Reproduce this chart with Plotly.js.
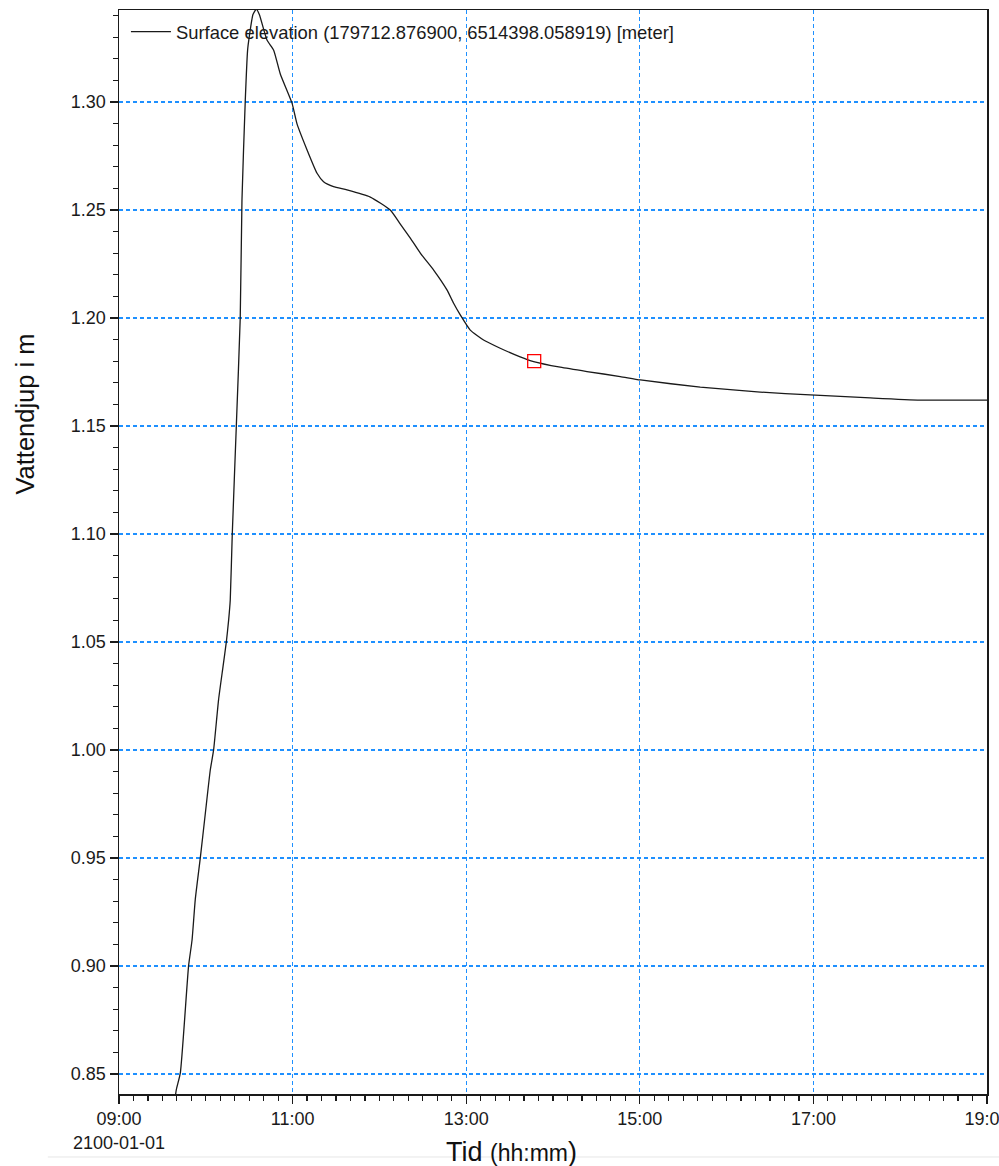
<!DOCTYPE html>
<html>
<head>
<meta charset="utf-8">
<script src="https://cdn.plot.ly/plotly-3.0.1.min.js"></script>
<style>
html,body{margin:0;padding:0;background:#fff;}
#chart{width:999px;height:1166px;}
</style>
</head>
<body>
<div id="chart"></div>
<script>
var day = "2100-01-01";
var seriesName = "Surface elevation (179712.876900, 6514398.058919) [meter]";
var times = ["09:38:00","09:39:36","09:42:24","09:48:06","09:50:30","09:52:42","09:56:12","09:59:42",
  "10:03:06","10:05:24","10:08:48","10:11:54","10:14:12","10:15:48","10:16:54","10:18:18","10:21:06",
  "10:23:48","10:25:00","10:27:18","10:28:54","10:30:00","10:32:36","10:34:54","10:37:00","10:42:18",
  "10:46:54","10:51:30","10:59:36","11:03:00","11:10:00","11:16:54","11:21:24","11:28:18","11:37:36",
  "11:53:42","12:07:30","12:14:28","12:21:22","12:28:18","12:37:30","12:46:42","12:51:18","12:55:54","13:02:48",
  "13:12:00","13:23:30","13:37:18","13:46:36","14:05:00","14:23:30","14:46:30","15:00:24","15:41:48",
  "16:23:18","16:57:48","17:39:18","18:13:48","19:00:00"];
var elevation = [0.835,0.8426,0.8505,0.900,0.912,0.9306,0.950,0.9708,
  0.9907,1.000,1.0231,1.0386,1.050,1.0602,1.0694,1.100,1.150,
  1.200,1.2546,1.3009,1.324,1.330,1.3405,1.343,1.3405,1.3287,
  1.324,1.313,1.2995,1.290,1.2778,1.267,1.2631,1.2608,1.2593,
  1.256,1.250,1.2435,1.237,1.230,1.2222,1.213,1.2068,1.2014,1.1944,
  1.1898,1.186,1.182,1.1798,1.1772,1.1752,1.1729,1.1713,1.168,
  1.1657,1.1644,1.163,1.162,1.162];
var markerTime = ["13:47:00"];
var markerValue = [1.18];
var xTickTimes = ["09:00","11:00","13:00","15:00","17:00","19:00"];
var xTickText = ["09:00<br>2100-01-01","11:00","13:00","15:00","17:00","19:00"];
var yTickVals = [0.85,0.90,0.95,1.00,1.05,1.10,1.15,1.20,1.25,1.30];
var yTickText = ["0.85","0.90","0.95","1.00","1.05","1.10","1.15","1.20","1.25","1.30"];
var xTitle = "Tid <span style='font-size:23px'>(hh:mm</span>)";
var yTitle = "Vattendjup i m";

function full(t){ return day + " " + (t.length === 5 ? t + ":00" : t); }

var FONT = "Liberation Sans, Arial, sans-serif";
var traces = [
  {
    x: times.map(full), y: elevation, type: "scatter", mode: "lines",
    name: seriesName, line: {color: "#1a1a1a", width: 1.3, shape: "spline", smoothing: 0.5}, showlegend: true
  },
  {
    x: markerTime.map(full), y: markerValue, type: "scatter", mode: "markers",
    marker: {symbol: "square-open", size: 13, color: "#ff0000", line: {width: 1.3, color: "#ff0000"}},
    showlegend: false, hoverinfo: "skip"
  }
];

var gridColor = "#1e90ff";
var layout = {
  width: 999, height: 1166,
  margin: {l: 119, r: 12, t: 10, b: 72},
  paper_bgcolor: "#ffffff", plot_bgcolor: "#ffffff",
  font: {family: FONT, color: "#1a1a1a", size: 18},
  showlegend: true,
  legend: {
    x: 0.008, y: 0.997, xanchor: "left", yanchor: "top",
    bgcolor: "rgba(255,255,255,0)", borderwidth: 0,
    font: {family: FONT, size: 18.4, color: "#1a1a1a"},
    itemwidth: 40
  },
  xaxis: {
    type: "date",
    range: [full("09:00"), full("19:00")],
    tickmode: "array",
    tickvals: xTickTimes.map(full),
    ticktext: xTickText,
    ticklabeloverflow: "allow",
    ticks: "outside", ticklen: 8, tickwidth: 1.3, tickcolor: "#1a1a1a",
    tickfont: {size: 18, family: FONT, color: "#1a1a1a"},
    showline: true, linecolor: "#1a1a1a", linewidth: 1.5, mirror: true,
    showgrid: true, gridcolor: gridColor, gridwidth: 1.3, griddash: "4px,3px",
    zeroline: false,
    minor: {dtick: 600000, tick0: full("09:00"), ticks: "outside", ticklen: 5, tickwidth: 1.2, tickcolor: "#1a1a1a", showgrid: false}
  },
  yaxis: {
    range: [0.8407, 1.3426],
    tickmode: "array",
    tickvals: yTickVals,
    ticktext: yTickText,
    ticks: "outside", ticklen: 8, tickwidth: 1.3, tickcolor: "#1a1a1a",
    tickfont: {size: 18, family: FONT, color: "#1a1a1a"},
    showline: true, linecolor: "#1a1a1a", linewidth: 1.5, mirror: true,
    showgrid: true, gridcolor: gridColor, gridwidth: 1.3, griddash: "4px,3px",
    zeroline: false,
    minor: {dtick: 0.01, tick0: 0.8, ticks: "outside", ticklen: 5, tickwidth: 1.2, tickcolor: "#1a1a1a", showgrid: false}
  },
  annotations: [
    {
      text: yTitle, xref: "paper", yref: "paper", x: -0.108, y: 0.627,
      xanchor: "center", yanchor: "middle", textangle: -90, showarrow: false,
      font: {size: 25.5, family: FONT, color: "#111"}
    },
    {
      text: xTitle, xref: "paper", yref: "paper", x: 0.452, y: -0.0535,
      xanchor: "center", yanchor: "middle", showarrow: false,
      font: {size: 27, family: FONT, color: "#111"}
    }
  ],
  shapes: [
    {type: "line", xref: "paper", yref: "paper", x0: -0.082, x1: 1.02, y0: -0.0581, y1: -0.0581,
     line: {color: "#e6e6e6", width: 1}}
  ]
};

Plotly.newPlot("chart", traces, layout, {displayModeBar: false, staticPlot: true});
</script>
</body>
</html>
